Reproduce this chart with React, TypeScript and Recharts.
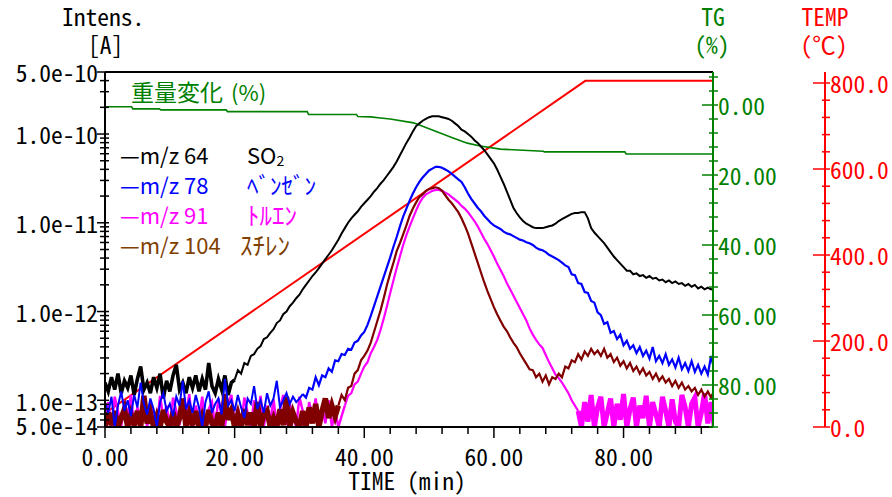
import React from 'react';
import { LineChart, Line, XAxis, YAxis, ReferenceLine } from 'recharts';

// ---- sampling grid of the MS traces (minutes) ----
const timeStep = 0.5;

// ---- log10 of ion current [A], one value every 0.5 min from 0 to 94 min ----
const so2Log = [
  -12.80,-12.90,-12.74,-12.88,-12.70,-12.92,-12.78,-12.86,-12.72,-12.94,
  -12.76,-12.62,-12.88,-12.80,-12.92,-12.74,-12.86,-12.70,-12.98,-12.78,
  -12.90,-12.72,-12.60,-12.88,-12.80,-12.92,-12.74,-12.86,-12.72,-12.90,
  -12.76,-12.88,-12.58,-12.84,-12.92,-12.76,-12.88,-12.72,-12.94,-12.80,
  -12.77,-12.66,-12.70,-12.58,-12.60,-12.50,-12.48,-12.42,-12.39,-12.31,
  -12.29,-12.24,-12.20,-12.13,-12.10,-12.03,-12.00,-11.94,-11.90,-11.85,
  -11.81,-11.75,-11.70,-11.65,-11.60,-11.56,-11.51,-11.46,-11.41,-11.36,
  -11.31,-11.25,-11.19,-11.12,-11.06,-11.00,-10.95,-10.91,-10.87,-10.82,
  -10.78,-10.74,-10.70,-10.65,-10.61,-10.56,-10.52,-10.47,-10.42,-10.37,
  -10.31,-10.24,-10.17,-10.10,-10.04,-9.97,-9.91,-9.88,-9.85,-9.83,
  -9.81,-9.80,-9.80,-9.80,-9.81,-9.82,-9.83,-9.85,-9.88,-9.91,
  -9.95,-9.97,-10.00,-10.03,-10.07,-10.10,-10.14,-10.18,-10.23,-10.28,
  -10.33,-10.40,-10.48,-10.56,-10.65,-10.74,-10.83,-10.89,-10.94,-10.98,
  -11.01,-11.03,-11.05,-11.06,-11.06,-11.06,-11.05,-11.04,-11.03,-11.01,
  -10.98,-10.96,-10.94,-10.92,-10.90,-10.89,-10.89,-10.88,-10.88,-10.95,
  -11.06,-11.11,-11.15,-11.19,-11.23,-11.28,-11.33,-11.38,-11.42,-11.46,
  -11.50,-11.54,-11.54,-11.58,-11.57,-11.60,-11.59,-11.62,-11.60,-11.63,
  -11.62,-11.65,-11.64,-11.67,-11.65,-11.68,-11.66,-11.69,-11.68,-11.71,
  -11.69,-11.72,-11.70,-11.74,-11.72,-11.75,-11.73,-11.75,-11.74,
];

const benzeneLog = [
  -13.02,-13.14,-12.96,-13.30,-13.06,-12.90,-13.12,-13.00,-13.18,-12.94,
  -13.08,-12.80,-13.04,-13.16,-12.98,-13.10,-13.30,-13.02,-12.92,-13.12,
  -13.04,-13.18,-12.96,-13.06,-12.78,-13.10,-13.00,-13.14,-12.94,-13.08,
  -13.30,-13.02,-12.90,-13.14,-13.04,-12.98,-13.16,-12.76,-13.06,-13.00,
  -13.12,-12.94,-13.08,-13.20,-12.98,-13.04,-12.84,-13.10,-13.00,-13.14,
  -12.92,-13.06,-12.98,-12.78,-13.08,-13.00,-12.92,-13.04,-12.96,-13.02,
  -12.98,
  -12.93,-12.97,-12.86,-12.88,-12.74,-12.83,-12.72,-12.74,-12.64,
  -12.68,-12.55,-12.56,-12.48,-12.49,-12.42,-12.43,-12.35,-12.33,-12.27,
  -12.23,-12.15,-12.05,-11.94,-11.83,-11.72,-11.61,-11.50,-11.39,-11.27,
  -11.16,-11.04,-10.93,-10.84,-10.75,-10.67,-10.60,-10.54,-10.49,-10.45,
  -10.41,-10.39,-10.37,-10.37,-10.38,-10.40,-10.42,-10.45,-10.48,-10.51,
  -10.54,-10.60,-10.67,-10.73,-10.78,-10.83,-10.87,-10.92,-10.96,-11.00,
  -11.03,-11.05,-11.07,-11.10,-11.12,-11.13,-11.15,-11.17,-11.19,-11.20,
  -11.22,-11.23,-11.25,-11.28,-11.30,-11.31,-11.33,-11.36,-11.38,-11.40,
  -11.42,-11.45,-11.48,-11.50,-11.58,-11.59,-11.68,-11.69,-11.78,-11.79,
  -11.88,-11.90,-12.01,-12.04,-12.14,-12.12,-12.24,-12.22,-12.31,-12.26,
  -12.38,-12.33,-12.42,-12.38,-12.47,-12.40,-12.50,-12.44,-12.53,-12.40,
  -12.56,-12.50,-12.58,-12.48,-12.60,-12.54,-12.63,-12.52,-12.65,-12.58,
  -12.67,-12.56,-12.68,-12.60,-12.70,-12.62,-12.71,-12.50,-12.66,
];

const tolueneLog = [
  -13.22,-13.02,-13.30,-12.96,-13.12,-13.30,-13.00,-13.18,-12.94,-13.30,
  -13.08,-13.24,-12.98,-13.30,-13.04,-13.14,-13.30,-12.95,-13.20,-13.06,
  -13.30,-12.97,-13.12,-13.28,-13.00,-13.16,-12.93,-13.30,-13.06,-13.22,
  -12.96,-13.30,-13.10,-13.02,-13.30,-12.98,-13.18,-13.30,-13.04,-12.94,
  -13.26,-13.08,-13.30,-12.97,-13.14,-13.30,-13.00,-13.20,-12.95,-13.30,
  -13.06,-13.24,-12.99,-13.30,-13.10,-12.94,-13.28,-13.04,-13.18,-13.30,
  -12.96,-13.12,-13.30,-13.02,-13.20,-12.98,-13.30,-13.08,-13.26,-13.00,
  -13.30,-13.12,-13.30,-13.18,-13.06,
  -12.95,-12.92,-12.82,-12.79,-12.70,
  -12.62,-12.57,-12.47,-12.40,-12.32,-12.21,-12.08,-11.94,-11.79,-11.65,
  -11.51,-11.38,-11.25,-11.14,-11.04,-10.95,-10.86,-10.78,-10.72,-10.68,
  -10.66,-10.64,-10.63,-10.63,-10.64,-10.66,-10.68,-10.71,-10.74,-10.77,
  -10.81,-10.84,-10.88,-10.93,-10.98,-11.04,-11.11,-11.18,-11.24,-11.31,
  -11.38,-11.46,-11.53,-11.60,-11.68,-11.75,-11.82,-11.89,-11.96,-12.03,
  -12.10,-12.19,-12.26,-12.32,-12.37,-12.41,-12.49,-12.57,-12.64,-12.71,
  -12.75,-12.80,-12.86,-12.92,-13.00,-13.06,-13.12,
  -13.30,-13.02,-13.24,-12.94,-13.30,-13.08,-12.96,-13.30,-13.14,-12.98,
  -13.30,-13.04,-13.22,-12.93,-13.30,-13.10,-12.97,-13.30,-13.06,-13.20,
  -12.95,-13.30,-13.02,-13.16,-13.30,-12.96,-13.12,-13.30,-12.99,-13.24,
  -13.30,-12.94,-13.08,-13.30,-13.04,-12.97,-13.30,-13.14,-12.92,-13.26,
  -13.02,-13.30,
];

const styreneLog = [
  -13.30,-13.14,-13.28,-13.12,-13.30,-13.20,-13.10,-13.30,-13.16,-13.28,
  -13.12,-13.30,-12.95,-13.26,-13.14,-13.30,-13.18,-13.30,-13.11,-13.24,
  -13.30,-13.13,-13.30,-13.20,-12.98,-13.30,-13.15,-13.28,-13.12,-13.30,
  -13.18,-13.30,-13.11,-13.26,-13.30,-13.14,-13.30,-12.93,-13.22,-13.12,
  -13.30,-13.16,-13.30,-13.10,-13.28,-13.14,-13.30,-13.02,-13.30,-13.16,
  -13.12,-13.30,-13.20,-13.30,-13.10,-13.28,-12.96,-13.30,-13.14,-13.24,
  -13.30,-13.12,-13.30,-13.08,-13.26,-13.04,-13.30,-13.12,-12.98,-13.20,
  -13.06,-13.18,
  -13.06,-12.94,-13.00,-12.86,-12.84,-12.70,-12.66,-12.55,
  -12.50,-12.44,-12.35,-12.23,-12.11,-11.99,-11.85,-11.70,-11.57,-11.45,
  -11.32,-11.23,-11.13,-11.03,-10.92,-10.84,-10.77,-10.71,-10.68,-10.64,
  -10.62,-10.61,-10.60,-10.61,-10.64,-10.69,-10.74,-10.78,-10.83,-10.88,
  -10.95,-11.03,-11.12,-11.23,-11.34,-11.45,-11.56,-11.67,-11.77,-11.86,
  -11.95,-12.03,-12.10,-12.17,-12.22,-12.29,-12.35,-12.40,-12.47,-12.53,
  -12.59,-12.65,-12.66,-12.74,-12.70,-12.79,-12.72,-12.82,-12.74,-12.76,
  -12.70,-12.74,-12.62,-12.64,-12.55,-12.57,-12.48,-12.54,-12.45,-12.50,
  -12.42,-12.48,-12.44,-12.50,-12.42,-12.52,-12.48,-12.57,-12.52,-12.61,
  -12.56,-12.64,-12.58,-12.67,-12.62,-12.70,-12.64,-12.72,-12.68,-12.76,
  -12.70,-12.78,-12.73,-12.80,-12.76,-12.84,-12.78,-12.86,-12.80,-12.88,
  -12.84,-12.90,-12.86,-12.94,-12.88,-12.96,-12.90,-12.97,-12.88,
];

// ---- TG (weight change, %) ----
const tgTime = [0, 4.1, 4.3, 8.4, 8.6, 18.7, 18.9, 31.2, 31.4, 38.8, 39, 41, 42.5, 44, 47.6, 51.3, 53.7, 55.9, 57.9, 61, 67.6, 67.8, 80.2, 80.4, 94];
const tgValue = [-0.5, -0.5, -1.1, -1.1, -1.4, -1.4, -1.9, -1.9, -2.7, -2.7, -3.3, -3.4, -3.7, -4.0, -5.1, -7.7, -9.4, -10.9, -11.7, -12.6, -13.2, -13.4, -13.4, -14.0, -14.0];

// ---- temperature program (°C) ----
const tempTime = [0, 74.1, 94];
const tempValue = [32, 805, 805];

// ---- axes ----
const xMajorTicks = [0, 20, 40, 60, 80];
const xMajorLabels = ['0.00', '20.00', '40.00', '60.00', '80.00'];
const xMinorTicks = [4, 8, 12, 16, 24, 28, 32, 36, 44, 48, 52, 56, 64, 68, 72, 76, 84, 88, 92];

const intMajorTicks = [5e-14, 1e-13, 1e-12, 1e-11, 1e-10, 5e-10];
const intMajorLabels = ['5.0e-14', '1.0e-13', '1.0e-12', '1.0e-11', '1.0e-10', '5.0e-10'];
const intMinorMantissas = [2, 3, 4, 5, 6, 7, 8, 9];
const intDecades = [-14, -13, -12, -11, -10];

const tgMajorTicks = [0, -20, -40, -60, -80];
const tgMajorLabels = ['0.00', '20.00', '40.00', '60.00', '80.00'];
const tgMinorStep = 4;

const tempMajorTicks = [0, 200, 400, 600, 800];
const tempMajorLabels = ['0.0', '200.0', '400.0', '600.0', '800.0'];
const tempMinorStep = 40;

const legendItems = [
  { label: '\u2014m/z 64', color: '#000000' },
  { label: '\u2014m/z 78', color: '#0000ff' },
  { label: '\u2014m/z 91', color: '#ff00ff' },
  { label: '\u2014m/z 104', color: '#804000' },
];

const MONO = "'Noto Sans Mono CJK JP', 'DejaVu Sans Mono', monospace";
const JP = "'Noto Sans CJK JP', 'Noto Sans', sans-serif";
const FS = 23.5;

const toRows = (arr: number[]) => arr.map((v, i) => ({ t: i * timeStep, v: Math.pow(10, v) }));
const so2Rows = toRows(so2Log);
const benRows = toRows(benzeneLog);
const tolRows = toRows(tolueneLog);
const styRows = toRows(styreneLog);
const tgRows = tgTime.map((t, i) => ({ t, v: tgValue[i] }));
const tempRows = tempTime.map((t, i) => ({ t, v: tempValue[i] }));

// noisy baseline stretches are drawn with a heavier pen, as in the original plot
const so2Base = so2Rows.slice(0, 41);
const so2Main = so2Rows.slice(40);
const benBase = benRows.slice(0, 62);
const benMain = benRows.slice(61);
const tolBase = tolRows.slice(0, 75);
const tolMain = tolRows.slice(74, 147);
const tolTail = tolRows.slice(146);
const styBase = styRows.slice(0, 73);
const styMain = styRows.slice(72);

const xTicks = [...xMajorTicks, ...xMinorTicks].sort((a, b) => a - b);
const intTicks: number[] = [...intMajorTicks];
intDecades.forEach((d) =>
  intMinorMantissas.forEach((m) => {
    const v = m * Math.pow(10, d);
    if (v > 5.01e-14 && v < 4.99e-10) intTicks.push(v);
  })
);
intTicks.sort((a, b) => a - b);
const tgTicks: number[] = [];
for (let v = 8; v >= -92; v -= tgMinorStep) tgTicks.push(v);
const tempTicks: number[] = [];
for (let v = 0; v <= 800; v += tempMinorStep) tempTicks.push(v);

const XTick = (p: any) => {
  const { x, y, payload } = p;
  const idx = xMajorTicks.indexOf(payload.value);
  const major = idx >= 0;
  return (
    <g>
      <line x1={x} x2={x} y1={y} y2={y + (major ? 11 : 7)} stroke="#000" strokeWidth={1.5} />
      {major && (
        <text x={x} y={y + 29} textAnchor="middle" dominantBaseline="central" fontFamily={MONO} fontSize={FS} fill="#000">
          {xMajorLabels[idx]}
        </text>
      )}
    </g>
  );
};

const IntTick = (p: any) => {
  const { x, y, payload } = p;
  const v = payload.value;
  const idx = intMajorTicks.findIndex((m) => Math.abs(m - v) / m < 1e-6);
  const major = idx >= 0;
  const dy = v === 5e-14 ? -2 : v === 1e-13 ? 1 : 0;
  return (
    <g>
      <line x1={x - (major ? 8 : 5)} x2={x + 4} y1={y} y2={y} stroke="#000" strokeWidth={1.5} />
      {major && (
        <text x={x - 7} y={y + dy} textAnchor="end" dominantBaseline="central" fontFamily={MONO} fontSize={FS} fill="#000">
          {intMajorLabels[idx]}
        </text>
      )}
    </g>
  );
};

const TgTick = (p: any) => {
  const { x, y, payload } = p;
  const idx = tgMajorTicks.indexOf(payload.value);
  const major = idx >= 0;
  const c = '#008000';
  return (
    <g>
      <line x1={x - (major ? 11 : 4)} x2={x + 5} y1={y} y2={y} stroke={c} strokeWidth={1.5} />
      {major && (
        <text x={x + 5} y={y} textAnchor="start" dominantBaseline="central" fontFamily={MONO} fontSize={FS} fill={c}>
          {tgMajorLabels[idx]}
        </text>
      )}
    </g>
  );
};

const TempTick = (p: any) => {
  const { x, y, payload } = p;
  const idx = tempMajorTicks.indexOf(payload.value);
  const major = idx >= 0;
  const c = '#ff0000';
  return (
    <g>
      <line x1={x - (major ? 12 : 3)} x2={x + 5} y1={y} y2={y} stroke={c} strokeWidth={1.5} />
      {major && (
        <text x={x + 5} y={y} textAnchor="start" dominantBaseline="central" fontFamily={MONO} fontSize={FS} fill={c}>
          {tempMajorLabels[idx]}
        </text>
      )}
    </g>
  );
};

const series = (data: any[], color: string, width: number, key: string) => (
  <Line key={key} xAxisId="x" yAxisId="a_int" data={data} dataKey="v" stroke={color} strokeWidth={width} dot={false} isAnimationActive={false} strokeLinejoin="miter" />
);

export default function App() {
  return (
    <div style={{ position: 'absolute', left: 0, top: 0, width: 892, height: 497, background: '#fff' }}>
      <LineChart width={892} height={497} margin={{ top: 72, right: 0, bottom: 0, left: 0 }}>
        <XAxis
          xAxisId="x"
          type="number"
          dataKey="t"
          domain={[0, 93.8]}
          allowDataOverflow
          ticks={xTicks}
          interval={0}
          tickSize={0}
          tickMargin={0}
          tickLine={false}
          tick={(p: any) => <XTick {...p} />}
          axisLine={{ stroke: '#000', strokeWidth: 2 }}
          height={70}
        />
        <YAxis
          yAxisId="a_int"
          orientation="left"
          type="number"
          scale="log"
          domain={[5e-14, 5e-10]}
          allowDataOverflow
          ticks={intTicks}
          interval={0}
          tickSize={0}
          tickMargin={0}
          tickLine={false}
          tick={(p: any) => <IntTick {...p} />}
          axisLine={{ stroke: '#000', strokeWidth: 2 }}
          width={105}
        />
        <YAxis
          yAxisId="b_tg"
          orientation="right"
          type="number"
          domain={[-92, 9.43]}
          allowDataOverflow
          ticks={tgTicks}
          interval={0}
          tickSize={0}
          tickMargin={0}
          tickLine={false}
          tick={(p: any) => <TgTick {...p} />}
          axisLine={{ stroke: '#008000', strokeWidth: 2 }}
          width={112}
        />
        <YAxis
          yAxisId="c_temp"
          orientation="right"
          type="number"
          domain={[0, 825.6]}
          allowDataOverflow
          ticks={tempTicks}
          interval={0}
          tickSize={0}
          tickMargin={0}
          tickLine={false}
          tick={(p: any) => <TempTick {...p} />}
          axisLine={{ stroke: '#ff0000', strokeWidth: 2 }}
          width={67}
        />
        <ReferenceLine xAxisId="x" yAxisId="a_int" y={5e-10} stroke="#000" strokeWidth={2} />
        <Line xAxisId="x" yAxisId="c_temp" data={tempRows} dataKey="v" stroke="#ff0000" strokeWidth={2} dot={false} isAnimationActive={false} />
        <Line xAxisId="x" yAxisId="b_tg" data={tgRows} dataKey="v" stroke="#008000" strokeWidth={1.6} dot={false} isAnimationActive={false} />
        {series(so2Base, '#000000', 3.6, 'so2b')}
        {series(so2Main, '#000000', 2, 'so2m')}
        {series(tolBase, '#ff00ff', 2.5, 'tolb')}
        {series(tolMain, '#ff00ff', 2.2, 'tolm')}
        {series(tolTail, '#ff00ff', 5, 'tolt')}
        {series(styBase, '#800000', 5.5, 'styb')}
        {series(styMain, '#800000', 2.2, 'stym')}
        {series(benBase, '#0000ff', 2, 'benb')}
        {series(benMain, '#0000ff', 2.2, 'benm')}
      </LineChart>
      <svg width={892} height={497} style={{ position: 'absolute', left: 0, top: 0, pointerEvents: 'none' }}>
        <text x={62} y={16} dominantBaseline="central" fontFamily={MONO} fontSize={FS} fill="#000">Intens.</text>
        <text x={88} y={44} dominantBaseline="central" fontFamily={MONO} fontSize={FS} fill="#000">[A]</text>
        <text x={713} y={16} textAnchor="middle" dominantBaseline="central" fontFamily={MONO} fontSize={FS} fill="#008000">TG</text>
        <text x={712} y={44} textAnchor="middle" dominantBaseline="central" fontFamily={MONO} fontSize={FS} fill="#008000">(%)</text>
        <text x={825} y={16} textAnchor="middle" dominantBaseline="central" fontFamily={MONO} fontSize={FS} fill="#ff0000">TEMP</text>
        <text x={824} y={44} textAnchor="middle" dominantBaseline="central" fontFamily={MONO} fontSize={FS} fill="#ff0000">(℃)</text>
        <text x={407} y={480} textAnchor="middle" dominantBaseline="central" fontFamily={MONO} fontSize={FS} fill="#000">TIME (min)</text>
        <text x={131} y={91} dominantBaseline="central" fontFamily={JP} fontSize={23} fill="#008000">重量変化</text>
        <text x={231} y={91} dominantBaseline="central" fontFamily={JP} fontSize={22} fill="#008000">(%)</text>
        {legendItems.map((it, i) => (
          <text key={it.label} x={120} y={154 + i * 30} dominantBaseline="central" fontFamily={JP} fontSize={22} fill={it.color}>
            {it.label}
          </text>
        ))}
        <text x={247} y={154} dominantBaseline="central" fontFamily={JP} fontSize={22} fill="#000">
          SO<tspan fontSize={14} dy={6}>2</tspan>
        </text>
        <text x={247} y={184} dominantBaseline="central" fontFamily={JP} fontSize={23} fill="#0000ff">ﾍﾞﾝｾﾞﾝ</text>
        <text x={247} y={214} dominantBaseline="central" fontFamily={JP} fontSize={25} fill="#ff00ff">ﾄﾙｴﾝ</text>
        <text x={240} y={244} dominantBaseline="central" fontFamily={JP} fontSize={25} fill="#804000">ｽﾁﾚﾝ</text>
      </svg>
    </div>
  );
}
